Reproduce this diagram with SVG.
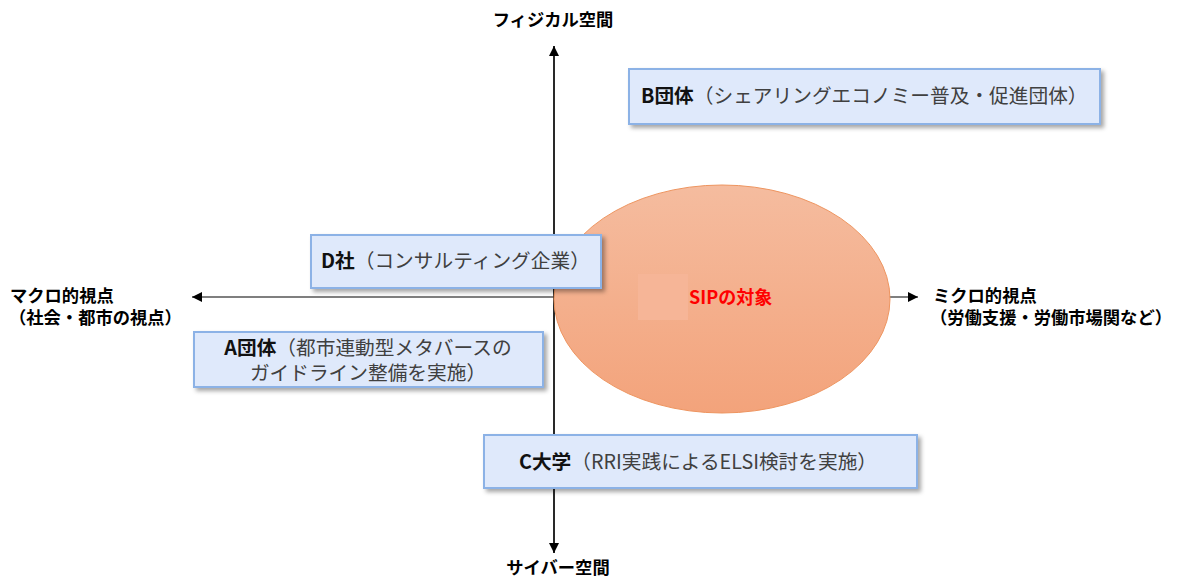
<svg xmlns="http://www.w3.org/2000/svg" width="1180" height="577" viewBox="0 0 1180 577">
<defs>
<style>
.ax{font-family:"Noto Sans CJK JP","Noto Sans",sans-serif;font-weight:bold;font-size:17.3px;fill:#000}
.box{fill:#dfe9fb;stroke:#8cb2e6;stroke-width:2}
.t{font-family:"Noto Sans CJK JP","Noto Sans",sans-serif;font-size:19.7px;fill:#404040}
.b{font-weight:bold;fill:#111}
.ln{stroke:#000;stroke-width:1.2;fill:none}
</style>
<marker id="ah" viewBox="0 0 10 10" refX="10" refY="5" markerWidth="10" markerHeight="10" markerUnits="userSpaceOnUse" orient="auto">
<path d="M0,0 L10,5 L0,10 z" fill="#000"/>
</marker>
<linearGradient id="eg" x1="0" y1="0" x2="0" y2="1">
<stop offset="0" stop-color="#f5bc9f"/>
<stop offset="1" stop-color="#f3a37b"/>
</linearGradient>
<filter id="sh" x="-10%" y="-20%" width="130%" height="160%">
<feDropShadow dx="3" dy="3" stdDeviation="2" flood-color="#000" flood-opacity="0.35"/>
</filter>
</defs>
<rect width="1180" height="577" fill="#fff"/>
<g id="connectors">
<line class="ln" x1="554" y1="553" x2="554" y2="46" marker-end="url(#ah)"/>
<line class="ln" x1="554" y1="46" x2="554" y2="553" marker-end="url(#ah)"/>
<line class="ln" x1="554" y1="297" x2="192" y2="297" marker-end="url(#ah)"/>
<line class="ln" x1="554" y1="297" x2="918" y2="297" marker-end="url(#ah)"/>
</g>
<g id="axis-labels">
<text class="ax" x="553" y="26" text-anchor="middle">フィジカル空間</text>
<text class="ax" x="558" y="574" text-anchor="middle">サイバー空間</text>
<text class="ax" x="10" y="302">マクロ的視点<tspan x="9" dy="22">（社会・都市の視点）</tspan></text>
<text class="ax" x="933" y="302">ミクロ的視点<tspan x="930" dy="22">（労働支援・労働市場関など）</tspan></text>
</g>
<g id="sip">
<ellipse cx="722" cy="299" rx="168" ry="114" fill="url(#eg)" stroke="#ee9560" stroke-width="1"/>
<rect x="638" y="274" width="50" height="46" fill="#f6b597"/>
<text x="689" y="304" font-family="'Noto Sans CJK JP','Noto Sans',sans-serif" font-size="18" font-weight="bold" fill="#ff0000">SIPの対象</text>
</g>
<g id="nodeB">
<rect class="box" x="629" y="69" width="471" height="55" filter="url(#sh)"/>
<text class="t" x="641" y="103"><tspan class="b">B団体</tspan>（シェアリングエコノミー普及・促進団体）</text>
</g>
<g id="nodeD">
<rect class="box" x="311" y="235" width="290" height="53" filter="url(#sh)"/>
<text class="t" x="321" y="268"><tspan class="b">D社</tspan>（コンサルティング企業）</text>
</g>
<g id="nodeA">
<rect class="box" x="194" y="332" width="349" height="55" filter="url(#sh)"/>
<text class="t" x="368" y="355" text-anchor="middle"><tspan class="b">A団体</tspan>（都市連動型メタバースの<tspan x="368" dy="25">ガイドライン整備を実施）</tspan></text>
</g>
<g id="nodeC">
<rect class="box" x="484" y="435" width="433" height="53" filter="url(#sh)"/>
<text class="t" x="519" y="469"><tspan class="b">C大学</tspan>（RRI実践によるELSI検討を実施）</text>
</g>
</svg>
